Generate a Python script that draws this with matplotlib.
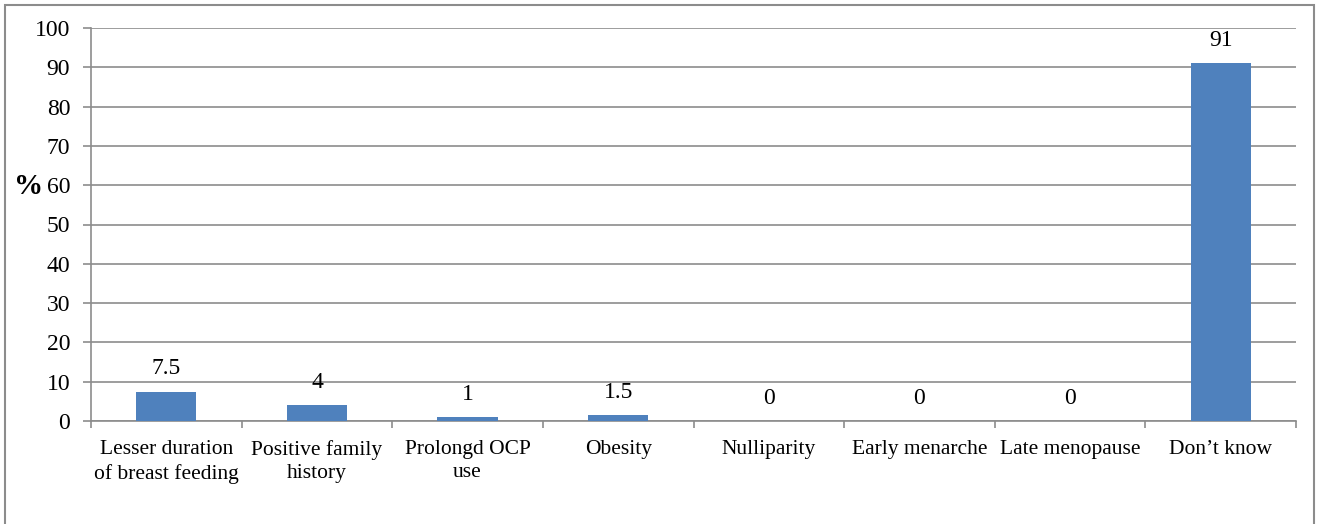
import matplotlib.pyplot as plt
from matplotlib.patches import Rectangle

# Risk factors named by respondents (%)
factors = ['Lesser duration\nof breast feeding', 'Positive family\nhistory', 'Prolongd OCP\nuse',
           'Obesity', 'Nulliparity', 'Early menarche', 'Late menopause', 'Don\u2019t know']
percent = [7.5, 4, 1, 1.5, 0, 0, 0, 91]
value_labels = ['7.5', '4', '1', '1.5', '0', '0', '0', '91']
y_ticks = list(range(0, 101, 10))

plt.rcParams['font.family'] = ['Liberation Serif', 'DejaVu Serif']

fig = plt.figure(figsize=(13.19, 5.24), dpi=100)
ax = fig.add_axes([91 / 1319, 1 - 421 / 524, (1296 - 91) / 1319, (421 - 28) / 524])

# outer chart frame
fig.patches.append(Rectangle((5 / 1319, -0.01), 1309 / 1319, 1 - 5 / 524 + 0.01,
                             transform=fig.transFigure, fill=False, edgecolor='#8c8c8c', linewidth=1.5))

xpos = list(range(len(factors)))
ax.bar(xpos, percent, width=0.4, color='#4F81BD', zorder=3)
for x, v, lab in zip(xpos, percent, value_labels):
    ax.annotate(lab, (x, v), xytext=(0, 9), textcoords='offset points',
                ha='center', va='bottom', fontsize=17)

ax.set_xlim(-0.5, len(factors) - 0.5)
ax.set_ylim(0, 100)
ax.set_yticks(y_ticks)
ax.yaxis.grid(True, color='#8c8c8c', linewidth=1.2, zorder=0)
ax.set_axisbelow(True)

ax.set_xticks(xpos)
ax.set_xticklabels(factors, fontsize=15.5, linespacing=1.28)
ax.tick_params(axis='x', length=0, pad=14)
ax.set_xticks([i - 0.5 for i in range(len(factors) + 1)], minor=True)
ax.tick_params(axis='x', which='minor', length=5, color='#8c8c8c', width=1.2)
ax.tick_params(axis='y', labelsize=17, length=6, color='#8c8c8c', width=1.2, pad=9)

for side in ['top', 'right']:
    ax.spines[side].set_visible(False)
for side in ['left', 'bottom']:
    ax.spines[side].set_color('#8c8c8c')
    ax.spines[side].set_linewidth(1.2)

fig.text(29 / 1319, 1 - 186 / 524, '%', fontsize=21, fontweight='bold', ha='center', va='center')

plt.savefig('out.png')
